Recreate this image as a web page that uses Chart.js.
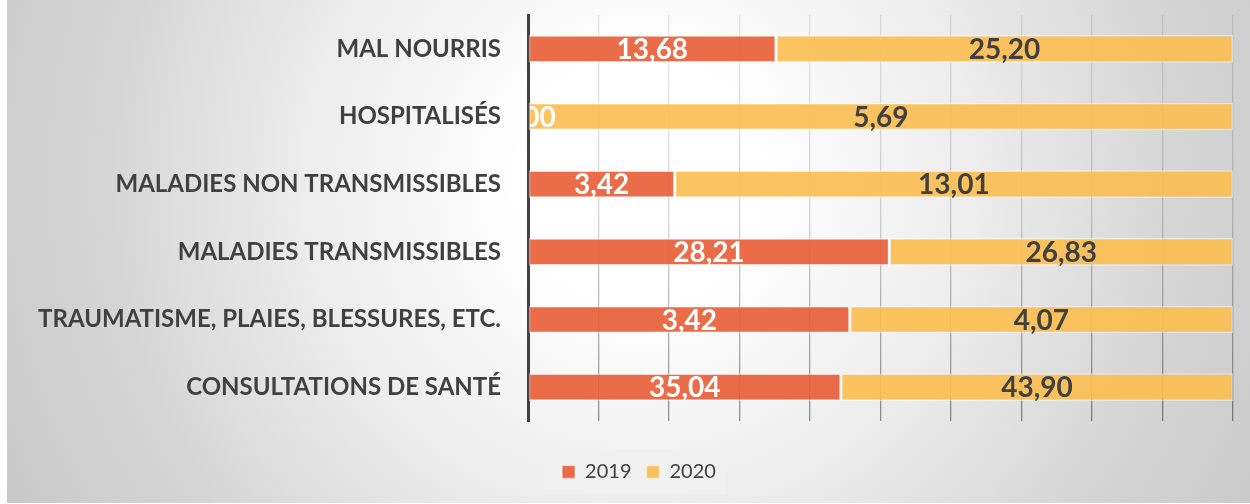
<!DOCTYPE html>
<html>
<head>
<meta charset="utf-8">
<script src="https://cdn.jsdelivr.net/npm/chart.js@4.4.1/dist/chart.umd.min.js"></script>
<style>
  html, body { margin: 0; padding: 0; background: #fff; }
  #wrap {
    position: absolute; left: 7px; top: 0; width: 1243px; height: 503px;
    background: radial-gradient(circle at 633px 180px, #ffffff 0px, #ffffff 120px, #ececec 340px, #d5d5d5 540px, #c8c8c8 720px);
  }
  #cv { position: absolute; left: 0; top: 0; }
</style>
</head>
<body>
<div id="wrap"></div>
<canvas id="cv" width="1250" height="504"></canvas>
<script>
var categories = ["MAL NOURRIS", "HOSPITALISÉS", "MALADIES NON TRANSMISSIBLES", "MALADIES TRANSMISSIBLES", "TRAUMATISME, PLAIES, BLESSURES, ETC.", "CONSULTATIONS DE SANTÉ"];
var seriesNames = ["2019", "2020"];
var values2019 = [13.68, 0.00, 3.42, 28.21, 3.42, 35.04];
var values2020 = [25.20, 5.69, 13.01, 26.83, 4.07, 43.90];
var gridTicks = [0, 10, 20, 30, 40, 50, 60, 70, 80, 90, 100];

var colors = ["rgba(232,92,52,0.9)", "rgba(252,188,80,0.9)"];
var labelColors = ["#ffffff", "#404040"];
var fontFam = "Lato, 'Open Sans', sans-serif";

// 100% stacked: share of each year in the row
function share(a, b) {
    var out = [];
    for (var i = 0; i < a.length; i++) {
        var t = a[i] + b[i];
        out.push(t ? a[i] / t * 100 : 0);
    }
    return out;
}
var raw = [values2019, values2020];
var pct = [share(values2019, values2020), share(values2020, values2019)];

function fmt(v) {
    return v.toFixed(2).replace(".", ",");
}

var valueLabels = {
    id: 'valueLabels',
    afterDatasetsDraw: function(chart) {
        var c = chart.ctx, area = chart.chartArea;
        c.save();
        c.beginPath();
        c.rect(area.left + 2, area.top, area.right - area.left, area.bottom - area.top);
        c.clip();
        c.font = "bold 28px " + fontFam;
        c.textAlign = "center";
        c.textBaseline = "middle";
        chart.data.datasets.forEach(function(ds, d) {
            var meta = chart.getDatasetMeta(d);
            c.fillStyle = labelColors[d];
            meta.data.forEach(function(bar, i) {
                var x = (bar.x + bar.base) / 2;
                c.fillText(fmt(raw[d][i]), x, bar.y + 1);
            });
        });
        c.restore();
    }
};

// shift the legend a little right and paint its light box
var legendBox = {
    id: 'legendBox',
    afterUpdate: function(chart) {
        var lg = chart.legend, dx = 19;
        lg.left += dx; lg.right += dx;
        lg.legendHitBoxes.forEach(function(h) { h.left += dx; });
    },
    beforeDraw: function(chart) {
        var lg = chart.legend;
        if (!lg || !lg.legendHitBoxes || !lg.legendHitBoxes.length) return;
        var hb = lg.legendHitBoxes;
        var first = hb[0], last = hb[hb.length - 1];
        var cy = first.top + first.height / 2;
        var c = chart.ctx;
        c.save();
        c.fillStyle = "rgba(240,240,240,0.85)";
        c.fillRect(first.left - 18, cy - 23, last.left + last.width - first.left + 28, 46);
        c.restore();
    }
};

function gridColor(ctx) {
    var chart = ctx.chart, area = chart.chartArea;
    if (!area) return "rgba(0,0,0,0.15)";
    var g = chart.ctx.createLinearGradient(0, area.top, 0, area.bottom);
    g.addColorStop(0, "rgba(0,0,0,0.09)");
    g.addColorStop(0.5, "rgba(0,0,0,0.16)");
    g.addColorStop(1, "rgba(0,0,0,0.42)");
    return g;
}

var chart = new Chart(document.getElementById("cv").getContext("2d"), {
    type: 'bar',
    data: {
        labels: categories,
        datasets: [0, 1].map(function(d) {
            return {
                label: seriesNames[d],
                data: pct[d],
                backgroundColor: colors[d],
                borderColor: "rgba(255,255,255,0.45)",
                borderWidth: 1.5,
                borderSkipped: false,
                barPercentage: 0.41,
                categoryPercentage: 1
            };
        })
    },
    options: {
        indexAxis: 'y',
        responsive: false,
        animation: false,
        layout: { padding: { left: 7, top: 15, right: 17, bottom: 12 } },
        scales: {
            x: {
                stacked: true,
                min: 0,
                max: 100,
                afterBuildTicks: function(s) { s.ticks = gridTicks.map(function(v) { return { value: v }; }); },
                afterFit: function(s) { s.height = 26; s.paddingLeft = 0; s.paddingRight = 0; },
                ticks: { display: false },
                grid: { color: gridColor, lineWidth: 1.3, drawTicks: false },
                border: { display: false }
            },
            y: {
                stacked: true,
                afterFit: function(s) { s.width = 521; s.paddingTop = 0; s.paddingBottom = 0; },
                ticks: {
                    color: "#404040",
                    padding: 27,
                    font: { family: fontFam, weight: "bold", size: 24 }
                },
                grid: { display: false, drawTicks: false },
                border: { display: true, color: "#404040", width: 3 }
            }
        },
        plugins: {
            legend: {
                position: 'bottom',
                labels: {
                    boxWidth: 13,
                    boxHeight: 13,
                    padding: 15,
                    color: "#404040",
                    font: { family: fontFam, size: 20 }
                }
            },
            tooltip: { enabled: false }
        }
    },
    plugins: [legendBox, valueLabels]
});
</script>
</body>
</html>
